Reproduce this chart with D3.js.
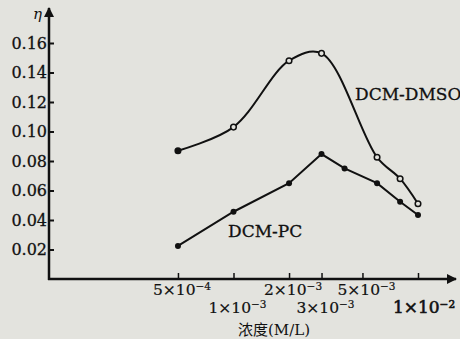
<!DOCTYPE html>
<html>
<head>
<meta charset="utf-8">
<script src="https://cdn.jsdelivr.net/npm/d3@7"></script>
<style>
  body { margin: 0; background: #e3e3de; }
  svg { display: block; }
  text { font-family: "DejaVu Serif", serif; fill: #111; }
</style>
</head>
<body>
<div id="chart"></div>
<script>
// concentration (M/L) and viscosity ratio
var concDmso = [5e-4, 1e-3, 2e-3, 3e-3, 6e-3, 8e-3, 1e-2];
var etaDmso  = [0.087, 0.103, 0.148, 0.153, 0.0825, 0.068, 0.051];
var concPc   = [5e-4, 1e-3, 2e-3, 3e-3, 4e-3, 6e-3, 8e-3, 1e-2];
var etaPc    = [0.0224, 0.0456, 0.065, 0.0847, 0.075, 0.065, 0.0524, 0.0434];

var yTicks = [0.02, 0.04, 0.06, 0.08, 0.10, 0.12, 0.14, 0.16];
var xTicks = [5e-4, 1e-3, 2e-3, 3e-3, 5e-3, 1e-2];
var xTickBase = ["5×10", "1×10", "2×10", "3×10", "5×10", "1×10"];
var xTickExp  = ["-4", "-3", "-3", "-3", "-3", "-2"];
var xTickRow  = [0, 1, 0, 1, 0, 1];

var width = 460, height = 339;

var svg = d3.select("#chart").append("svg")
  .attr("width", width)
  .attr("height", height);

var x = d3.scaleLog()
  .domain([1e-4, 1e-2])
  .range([49, 418]);

var y = d3.scaleLinear()
  .domain([0, 0.16])
  .range([279, 43]);

// arrow heads
svg.append("defs").append("marker")
  .attr("id", "arrow")
  .attr("viewBox", "0 0 10 10")
  .attr("refX", 9).attr("refY", 5)
  .attr("markerWidth", 4).attr("markerHeight", 4)
  .attr("orient", "auto")
  .append("path")
  .attr("d", "M0,0 L10,5 L0,10 z")
  .attr("fill", "#111");

// y axis
var yAxis = svg.append("g")
  .attr("transform", "translate(" + x(1e-4) + ",0)")
  .call(d3.axisLeft(y).tickValues(yTicks).tickSize(-5).tickPadding(2).tickFormat(d3.format(".2f")));
yAxis.select(".domain").remove();
yAxis.selectAll(".tick line").attr("stroke", "#111").attr("stroke-width", 2);
yAxis.selectAll(".tick text")
  .style("font-family", "DejaVu Serif")
  .style("font-size", "16px")
  .attr("fill", "#111")
  .attr("stroke", "#111")
  .attr("stroke-width", 0.3);

svg.append("line")
  .attr("x1", x(1e-4)).attr("x2", x(1e-4))
  .attr("y1", y(0) + 1).attr("y2", 8)
  .attr("stroke", "#111").attr("stroke-width", 2.5)
  .attr("marker-end", "url(#arrow)");

svg.append("text")
  .attr("x", 42).attr("y", 19)
  .attr("text-anchor", "end")
  .style("font-size", "15px")
  .style("font-style", "italic")
  .text("η");

// x axis
var xAxis = svg.append("g")
  .attr("transform", "translate(0," + y(0) + ")")
  .call(d3.axisBottom(x).tickValues(xTicks).tickSize(-6).tickFormat(""));
xAxis.select(".domain").remove();
xAxis.selectAll(".tick line").attr("stroke", "#111").attr("stroke-width", 1.5);

svg.append("line")
  .attr("x1", x(1e-4) - 1).attr("x2", 456)
  .attr("y1", y(0)).attr("y2", y(0))
  .attr("stroke", "#111").attr("stroke-width", 2.5)
  .attr("marker-end", "url(#arrow)");

var xl = svg.append("g").selectAll("text")
  .data(xTicks)
  .enter().append("text")
  .attr("x", (d, i) => x(d) + (i == 5 ? 6 : 4))
  .attr("y", (d, i) => y(0) + (xTickRow[i] ? 34 : 16))
  .attr("text-anchor", "middle")
  .style("font-size", (d, i) => i == 5 ? "17px" : "15.5px")
  .attr("stroke", "#111")
  .attr("stroke-width", (d, i) => i == 5 ? 0.6 : 0.2);
xl.append("tspan").text((d, i) => xTickBase[i]);
xl.append("tspan")
  .attr("dy", -5)
  .style("font-size", "10.5px")
  .text((d, i) => "−" + xTickExp[i].slice(1));

var xTitle = svg.append("text")
  .attr("x", 274).attr("y", 335)
  .attr("text-anchor", "middle")
  .style("font-size", "15px");
xTitle.append("tspan").style("font-family", "'Noto Sans CJK SC'").text("浓度");
xTitle.append("tspan").text("(M/L)");

// series
var lineDmso = d3.line()
  .x((d, i) => x(concDmso[i]))
  .y(d => y(d))
  .curve(d3.curveCatmullRom.alpha(0.5));

var linePc = d3.line()
  .x((d, i) => x(concPc[i]))
  .y(d => y(d));

svg.append("path")
  .datum(etaDmso)
  .attr("d", lineDmso)
  .attr("fill", "none")
  .attr("stroke", "#111")
  .attr("stroke-width", 2);

svg.append("path")
  .datum(etaPc)
  .attr("d", linePc)
  .attr("fill", "none")
  .attr("stroke", "#111")
  .attr("stroke-width", 2);

svg.append("g").selectAll("circle")
  .data(etaDmso)
  .enter().append("circle")
  .attr("cx", (d, i) => x(concDmso[i]))
  .attr("cy", d => y(d))
  .attr("r", 2.8)
  .attr("fill", (d, i) => i == 0 ? "#111" : "#e3e3de")
  .attr("stroke", "#111")
  .attr("stroke-width", 1.5);

svg.append("g").selectAll("circle")
  .data(etaPc)
  .enter().append("circle")
  .attr("cx", (d, i) => x(concPc[i]))
  .attr("cy", d => y(d))
  .attr("r", 3)
  .attr("fill", "#111");

svg.append("text")
  .attr("x", 355).attr("y", 100)
  .style("font-size", "17px")
  .attr("stroke", "#111").attr("stroke-width", 0.3)
  .text("DCM-DMSO");

svg.append("text")
  .attr("x", 228).attr("y", 237)
  .style("font-size", "17px")
  .attr("stroke", "#111").attr("stroke-width", 0.3)
  .text("DCM-PC");
</script>
</body>
</html>
